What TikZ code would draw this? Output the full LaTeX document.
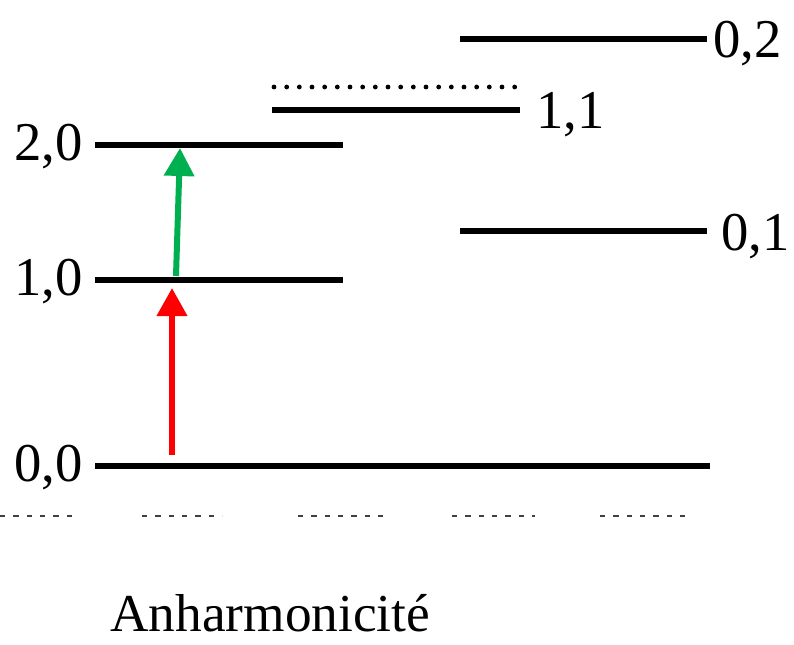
\documentclass[tikz,border=0pt]{standalone}
\usepackage{fontspec}
\setmainfont{Liberation Serif}
\usetikzlibrary{arrows.meta}
\newcommand{\lvlfont}{\fontsize{41}{48}\selectfont}
\tikzset{
  lvl/.style={line width=4.5pt},
  lvldots/.style={line width=3.6pt, line cap=round, dash pattern=on 0pt off 9.5pt},
  lbl/.style={inner sep=0pt, font=\lvlfont},
  trans/.style={line width=4.5pt, -{Triangle[width=22pt,length=21pt]}},
  cutoff/.style={line width=1.4pt, color=black!75, dash pattern=on 4pt off 6pt},
}

\begin{document}
\begin{tikzpicture}[x=0.75pt,y=0.75pt,yscale=-1,xscale=1]
\useasboundingbox (0,0) rectangle (794,644);

%Straight Lines [id:lvl00]
\draw [lvl]   (95,466) -- (710,466) ;
%Straight Lines [id:lvl10]
\draw [lvl]   (95,280) -- (343,280) ;
%Straight Lines [id:lvl20]
\draw [lvl]   (95,145) -- (343,145) ;
%Straight Lines [id:lvl11]
\draw [lvl]   (272,110) -- (520,110) ;
%Dotted Lines [id:lvl11b]
\draw [lvldots]   (274,87) -- (526,87) ;
%Straight Lines [id:lvl02]
\draw [lvl]   (460,39) -- (707,39) ;
%Straight Lines [id:lvl01]
\draw [lvl]   (460,231) -- (707,231) ;

%Arrow ends
\coordinate (r0) at (172,455) ;
\coordinate (r1) at (172,288) ;
\coordinate (g0) at (176,276) ;
\coordinate (g1) at (180,148) ;
%Straight Lines [id:red]
\draw [trans, color={rgb, 255:red, 255; green, 0; blue, 0 }]   (r0) -- (r1) ;
%Straight Lines [id:green]
\draw [trans, color={rgb, 255:red, 0; green, 176; blue, 80 }]   (g0) -- (g1) ;

%Cut off text at the bottom
\draw [cutoff]   (0,516) -- (76,516) ;
\draw [cutoff]   (142,516) -- (222,516) ;
\draw [cutoff]   (298,516) -- (390,516) ;
\draw [cutoff]   (452,516) -- (535,516) ;
\draw [cutoff]   (600,516) -- (686,516) ;

% Text Node
\node [lbl, anchor=base east] (t00) at (83,481) {0,0};
% Text Node
\node [lbl, anchor=base east] (t10) at (83,295) {1,0};
% Text Node
\node [lbl, anchor=base east] (t20) at (83,160) {2,0};
% Text Node
\node [lbl, anchor=base west] (t11) at (536,128) {1,1};
% Text Node
\node [lbl, anchor=base west] (t01) at (721,250) {0,1};
% Text Node
\node [lbl, anchor=base west] (t02) at (713,57) {0,2};
% Text Node
\node [lbl, anchor=base west, font=\fontsize{40}{48}\selectfont] (anh) at (110,631) {Anharmonicité};

\end{tikzpicture}
\end{document}
